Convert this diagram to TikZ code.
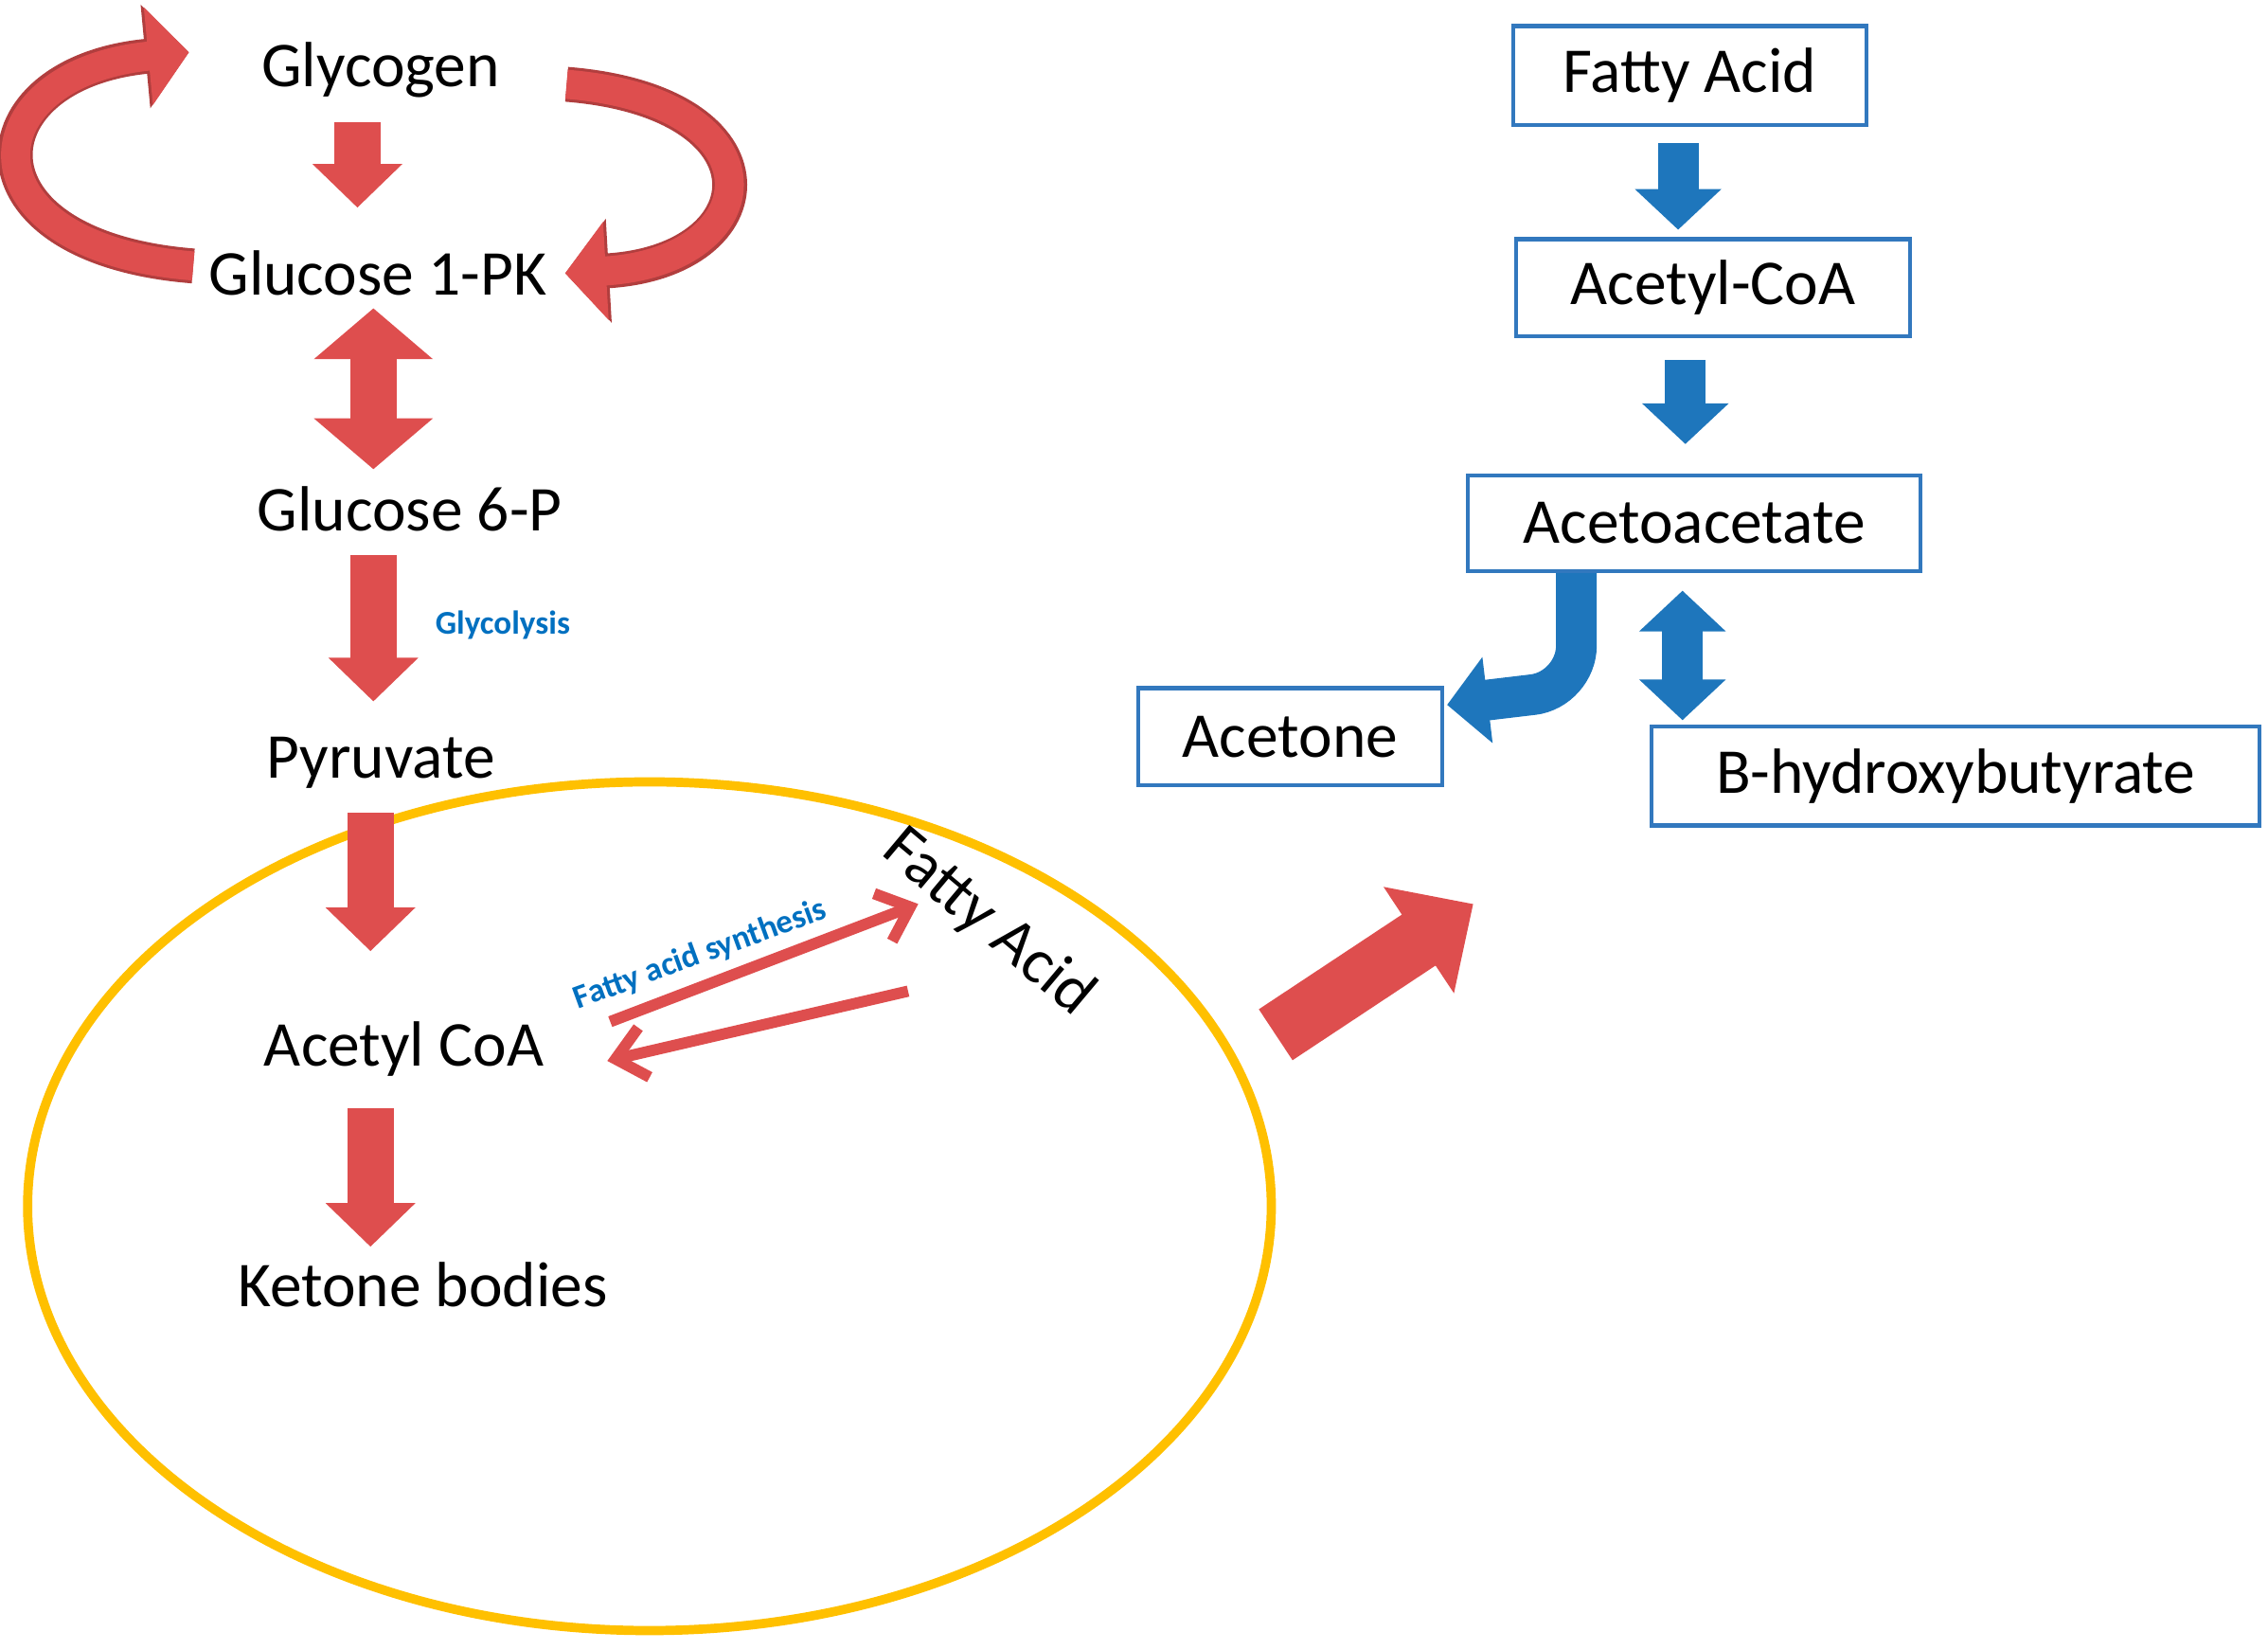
\documentclass[tikz,border=0pt]{standalone}
\usepackage{fontspec}
\setmainfont{Carlito}
\usetikzlibrary{arrows.meta,positioning,calc}
\definecolor{ketred}{RGB}{222,78,78}
\definecolor{ketblue}{RGB}{30,118,188}
\definecolor{ketframe}{RGB}{50,120,190}
\definecolor{ketgold}{RGB}{255,192,0}
\definecolor{kettext}{RGB}{0,112,192}
\tikzset{
  lbl/.style={inner sep=0pt, font=\fontsize{12.5}{15}\selectfont},
  box/.style={draw=ketframe, line width=0.8pt, inner sep=0pt, font=\fontsize{12.5}{15}\selectfont},
  redarr/.style={ketred, line width=0.32cm, -{Triangle[width=0.6cm,length=0.3cm]}},
  redboth/.style={ketred, line width=0.32cm, {Triangle[width=0.8cm,length=0.35cm]}-{Triangle[width=0.8cm,length=0.35cm]}},
  bluearr/.style={ketblue, line width=0.28cm, -{Triangle[width=0.58cm,length=0.28cm]}},
  blueboth/.style={ketblue, line width=0.28cm, {Triangle[width=0.58cm,length=0.28cm]}-{Triangle[width=0.58cm,length=0.28cm]}},
  thinarr/.style={ketred, line width=2.2pt, -{Straight Barb[length=0.2cm,width=0.35cm]}},
  tag/.style={inner sep=0pt, text=kettext, font=\fontsize{6.5}{8}\selectfont\bfseries}
}
\begin{document}
\begin{tikzpicture}[x=0.01cm,y=-0.01cm]
    \useasboundingbox (0,0) rectangle (1561,1135);

    % Left pathway
    \node[lbl] (glycogen) at (262,48) {Glycogen};
    \node[lbl] (g1pk) at (260,188) {Glucose 1-PK};
    \node[lbl] (g6p) at (282,350) {Glucose 6-P};
    \node[lbl] (pyr) at (262,525) {Pyruvate};
    \node[lbl] (acoa) at (278,722) {Acetyl CoA};
    \node[lbl] (ketone) at (291,884) {Ketone bodies};
    \node[tag] (glyco) at (346,430) {Glycolysis};

    % Mitochondrion
    \draw[ketgold, line width=1.8pt] (447,830) ellipse (428 and 292);
    \node[lbl, rotate=-40] (fa) at (680,635) {Fatty Acid};
    \node[tag, rotate=20] (fas) at (482,657) {Fatty acid synthesis};

    % Flow
    \draw[redarr, shorten <=0.16cm, shorten >=0.29cm] ([xshift=-0.16cm]glycogen.south) -- ([xshift=-0.16cm]glycogen.south |- g1pk.north);
    \draw[redboth, shorten <=0.08cm, shorten >=0.11cm] ([xshift=-0.03cm]g1pk.south) -- ([xshift=-0.03cm]g1pk.south |- g6p.north);
    \draw[redarr, shorten <=0.16cm, shorten >=0.24cm] ([xshift=-0.25cm]g6p.south) -- ([xshift=-0.25cm]g6p.south |- pyr.north);
    \draw[redarr, shorten <=0.16cm, shorten >=0.48cm] ([xshift=-0.07cm]pyr.south) -- ([xshift=-0.07cm]pyr.south |- acoa.north);
    \draw[redarr, shorten <=0.21cm, shorten >=0.1cm] ([xshift=-0.23cm]acoa.south) -- ([xshift=-0.23cm]acoa.south |- ketone.north);

    % Glycogen loop
    \coordinate (loopL) at (130,36);
    \coordinate (loopR) at (390,58);
    \draw[ketred!80!black, line width=0.24cm, -{Triangle[width=0.7cm,length=0.3cm]}]
        ([xshift=-0.1cm,yshift=0.05cm]g1pk.west) .. controls (-30,170) and (-20,50) .. (loopL);
    \draw[ketred, line width=0.2cm, -{Triangle[width=0.66cm,length=0.28cm]}]
        ([xshift=-0.1cm,yshift=0.05cm]g1pk.west) .. controls (-30,170) and (-20,50) .. (loopL);
    \draw[ketred!80!black, line width=0.24cm, -{Triangle[width=0.7cm,length=0.3cm]}]
        (loopR) .. controls (540,70) and (530,180) .. ([xshift=0.12cm]g1pk.east);
    \draw[ketred, line width=0.2cm, -{Triangle[width=0.66cm,length=0.28cm]}]
        (loopR) .. controls (540,70) and (530,180) .. ([xshift=0.12cm]g1pk.east);

    % Fatty acid synthesis
    \coordinate (fsA) at (420,703);
    \coordinate (fsB) at (632,622);
    \coordinate (fsC) at (625,682);
    \coordinate (fsD) at (418,730);
    \draw[thinarr] (fsA) -- (fsB);
    \draw[thinarr] (fsC) -- (fsD);

    % Export
    \coordinate (outA) at (878,712);
    \coordinate (outB) at (1014,622);
    \draw[ketred, line width=0.42cm, -{Triangle[width=0.85cm,length=0.45cm]}] (outA) -- (outB);

    % Ketogenesis
    \node[box, minimum width=2.43cm, minimum height=0.68cm] (fa2) at (1163,52) {Fatty Acid};
    \node[box, minimum width=2.71cm, minimum height=0.67cm] (acoa2) at (1179,198) {Acetyl-CoA};
    \node[box, minimum width=3.11cm, minimum height=0.66cm] (aceto) at (1166,360) {Acetoacetate};
    \node[box, minimum width=2.09cm, minimum height=0.67cm] (acetone) at (888,507) {Acetone};
    \node[box, minimum width=4.18cm, minimum height=0.68cm] (bhb) at (1346,534) {B-hydroxybutyrate};

    \draw[bluearr, shorten <=0.11cm, shorten >=0.05cm] ([xshift=-0.08cm]fa2.south) -- ([xshift=-0.08cm]fa2.south |- acoa2.north);
    \draw[bluearr, shorten <=0.15cm, shorten >=0.2cm] ([xshift=-0.19cm]acoa2.south) -- ([xshift=-0.19cm]acoa2.south |- aceto.north);
    \draw[blueboth, shorten <=0.12cm, shorten >=0.03cm] ([xshift=-0.08cm]aceto.south) -- ([xshift=-0.08cm]aceto.south |- bhb.north);
    \draw[bluearr, rounded corners=0.3cm] ([xshift=-0.81cm]aceto.south) -- ++(0,80) -- ([xshift=0.02cm]acetone.east |- 0,485);
\end{tikzpicture}
\end{document}
